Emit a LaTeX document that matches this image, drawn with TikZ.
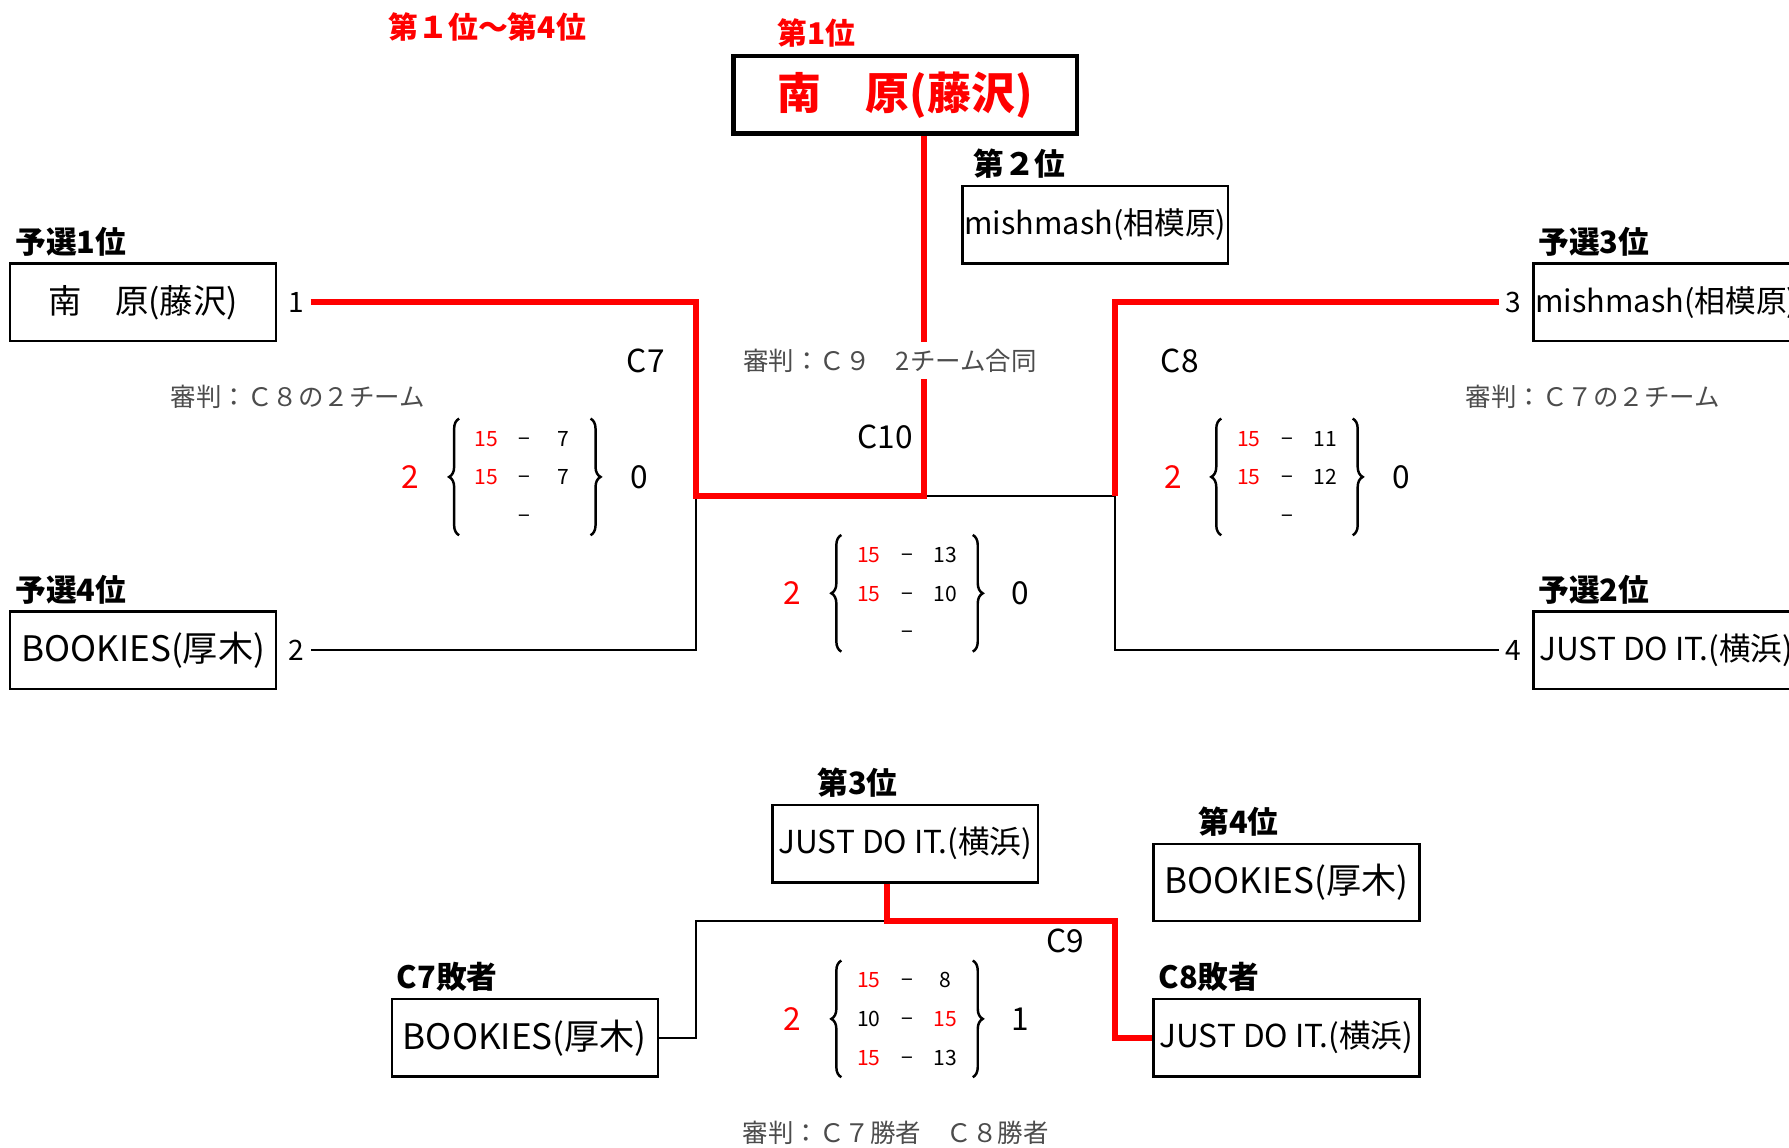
\documentclass[tikz,border=0pt]{standalone}
\usepackage{fontspec}
\setmainfont{Noto Sans CJK JP}
\usepackage{array}
\usetikzlibrary{positioning,decorations.pathreplacing}

\definecolor{judgegray}{gray}{0.3}
\newcommand{\rs}[1]{\textcolor{red}{#1}}
\newcommand{\scorerows}[3]{%
  \begin{tabular}{@{}wc{0.765cm}@{}wc{0.765cm}@{}wc{0.765cm}@{}}#1\\#2\\#3\end{tabular}}

\tikzset{
  team/.style={draw, line width=1.3pt, minimum width=5.32cm, minimum height=1.55cm,
    inner xsep=1pt, font=\fontsize{#1}{20}\selectfont},
  team/.default=18,
  champ/.style={draw, line width=2.8pt, minimum width=6.87cm, minimum height=1.55cm,
    text=red, font=\bfseries\fontsize{25}{28}\selectfont},
  place/.style={font=\bfseries\fontsize{17.5}{19}\selectfont},
  rank/.style={text=red, font=\bfseries\fontsize{17}{19}\selectfont},
  match/.style={font=\fontsize{18}{20}\selectfont},
  judge/.style={text=judgegray, font=\fontsize{14.5}{16}\selectfont},
  seed/.style={font=\fontsize{16}{18}\selectfont},
  sets/.style={font=\fontsize{12}{22}\selectfont, inner sep=0pt},
  setbrace/.style={decorate, decoration={brace, amplitude=0.2cm}, line width=1.4pt},
  won/.style={font=\fontsize{18}{20}\selectfont},
  win/.style={red, line width=3.4pt},
  lose/.style={black, line width=1.1pt},
}

\begin{document}
\begin{tikzpicture}[x=0.02282cm, y=-0.02282cm]
  \useasboundingbox (0,0) rectangle (1568,1006);
  \clip (0,0) rectangle (1568,1006);

  % final ranking
  \node[rank] (t14) at (427,24) {第１位～第4位};
  \node[champ] (w1) at (793.5,83) {南　原(藤沢)};
  \node[rank, above right=0pt and 0.8cm of w1.north west] (r1) {第1位};
  \node[team=17.5] (w2) at (960,197) {mishmash(相模原)};
  \node[place, above right=0pt and 0.12cm of w2.north west] (r2) {第２位};

  % qualifiers
  \node[team=19] (q1) at (125.5,265) {南　原(藤沢)};
  \node[place, above right=0pt and 0pt of q1.north west] (p1) {予選1位};
  \node[team=20] (q4) at (125.5,570) {BOOKIES(厚木)};
  \node[place, above right=0pt and 0pt of q4.north west] (p4) {予選4位};
  \node[team=17.5] (q3) at (1460.5,265) {mishmash(相模原)};
  \node[place, above right=0pt and 0pt of q3.north west] (p3) {予選3位};
  \node[team] (q2) at (1460.5,570) {JUST DO IT.(横浜)};
  \node[place, above right=0pt and 0pt of q2.north west] (p2) {予選2位};

  \node[seed, right=3pt of q1] (s1) {1};
  \node[seed, right=3pt of q4] (s2) {2};
  \node[seed, left=3pt of q3] (s3) {3};
  \node[seed, left=3pt of q2] (s4) {4};

  % bracket
  \coordinate (m7) at (610,435);
  \coordinate (m10) at (810,435);
  \coordinate (m8) at (977,435);

  \draw[lose] (m7) |- (s2.east);
  \draw[lose] (m10) -- (m8);
  \draw[lose] (m8) |- (s4.west);
  \draw[win] (s1.east) -| (m7) -- (m10) -- (m10 |- w1.south);
  \draw[win] (s3.west) -| (m8);

  \node[match] (c7) at (566,316) {C7};
  \node[match] (c10) at (776,383) {C10};
  \node[match] (c8) at (1034,316) {C8};

  \node[judge] (j7) at (261,348) {審判：Ｃ８の２チーム};
  \node[judge, fill=white, inner ysep=4pt] (j10) at (780,316) {審判：Ｃ９　2チーム合同};
  \node[judge] (j8) at (1396,348) {審判：Ｃ７の２チーム};

  % set scores
  \node[sets] (c7s) at (460,418) {\scorerows{\rs{15} & − & 7}{\rs{15} & − & 7}{ & − & }};
  \node[won, text=red] at (360,418) {2};
  \node[won] at (560,418) {0};

  \node[sets] (c10s) at (795,520) {\scorerows{\rs{15} & − & 13}{\rs{15} & − & 10}{ & − & }};
  \node[won, text=red] at (694,520) {2};
  \node[won] at (894,520) {0};

  \node[sets] (c8s) at (1128,418) {\scorerows{\rs{15} & − & 11}{\rs{15} & − & 12}{ & − & }};
  \node[won, text=red] at (1028,418) {2};
  \node[won] at (1228,418) {0};

  % 3rd place match
  \node[team] (b3) at (793.5,739.5) {JUST DO IT.(横浜)};
  \node[place, above right=0pt and 0.8cm of b3.north west] (r3) {第3位};
  \node[team=20] (b4) at (1127.5,773.5) {BOOKIES(厚木)};
  \node[place, above right=0pt and 0.8cm of b4.north west] (r4) {第4位};
  \node[team=20] (l7) at (460,909.5) {BOOKIES(厚木)};
  \node[place, above right=0pt and 0pt of l7.north west] (p7) {C7敗者};
  \node[team] (l8) at (1127.5,909.5) {JUST DO IT.(横浜)};
  \node[place, above right=0pt and 0pt of l8.north west] (p8) {C8敗者};

  \coordinate (m9) at (777,807);
  \coordinate (k7) at (610,807);
  \coordinate (k8) at (977,807);
  \draw[lose] (m9) -- (k7) |- (l7.east);
  \draw[win] (m9 |- b3.south) -- (m9) -- (k8) |- (l8.west);

  \node[match] (c9) at (934,825) {C9};
  \node[sets] (c9s) at (795,893) {\scorerows{\rs{15} & − & 8}{10 & − & \rs{15}}{\rs{15} & − & 13}};
  \node[won, text=red] at (694,893) {2};
  \node[won] at (894,893) {1};
  \node[judge] (j9) at (785,993) {審判：Ｃ７勝者　Ｃ８勝者};

  % braces round the set scores
  \foreach \s in {c7s,c10s,c8s,c9s} {
    \draw[setbrace] ([xshift=-0.16cm]\s.south west) -- ([xshift=-0.16cm]\s.north west);
    \draw[setbrace] ([xshift=0.16cm]\s.north east) -- ([xshift=0.16cm]\s.south east);
  }
\end{tikzpicture}
\end{document}
